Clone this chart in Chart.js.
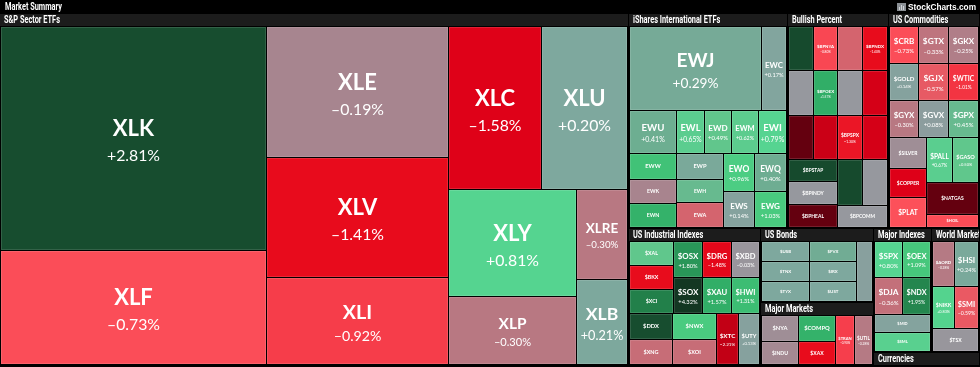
<!DOCTYPE html>
<html>
<head>
<meta charset="utf-8">
<script src="https://cdn.jsdelivr.net/npm/chart.js@4.4.1/dist/chart.umd.min.js"></script>
<style>
  html, body { margin: 0; padding: 0; background: #000; }
  #wrap { width: 980px; height: 367px; }
</style>
</head>
<body>
<div id="wrap"><canvas id="map" width="980" height="367"></canvas></div>
<script>
// ---- data: one set of arrays per panel (weights = relative cell size) ----
const spNames  = ['XLK','XLF','XLE','XLV','XLI','XLC','XLU','XLY','XLP','XLRE','XLB'];
const spChange = [2.81,-0.73,-0.19,-1.41,-0.92,-1.58,0.20,0.81,-0.30,-0.30,0.21];
const spWeight = [59808,30438,23973,21960,15921,15159,14018,13696,8704,4590,4335];
const spTree   = ['h',['v',0,1],['v',2,3,4],['v',['h',5,6],['h',['v',7,8],['v',9,10]]]];

const intlNames  = ['EWJ','EWC','EWU','EWL','EWD','EWM','EWI','EWW','EWK','EWN','EWP','EWH','EWA','EWO','EWS','EWQ','EWG'];
const intlChange = [0.29,0.17,0.41,0.65,0.49,0.62,0.79,1.20,-0.20,1.50,0.25,0.45,-0.45,0.96,0.14,0.40,1.03];
const intlWeight = [11172,2100,2016,1176,1134,1134,1176,1248,1152,1152,1222,1081,1175,1178,1116,1216,1152];
const intlTree   = ['v',['h',0,1],['h',2,3,4,5,6],['h',['v',7,8,9],['v',10,11,12],['v',13,14],['v',15,16]]];

const bpNames  = ['','$BPNYA','','$BPNDX','','$BPOEX','','','','','$BPSPX','','$BPSTAP','$BPINDY','$BPHEAL','','','$BPCOMM'];
const bpChange = [3.0,-0.80,-0.45,-1.40,0.0,1.57,0.0,-1.80,-4.0,-2.0,-1.30,-1.80,3.0,0.0,-4.0,3.0,0.0,0.0];
const bpWeight = [1100,1100,1100,1100,1100,1100,1100,1100,1100,1100,1100,1100,1078,1127,1127,1100,1144,1122];
const bpTree   = ['v',['h',0,1,2,3],['h',4,5,6,7],['h',8,9,10,11],['h',['v',12,13,14],['v',['h',15,16],17]]];

const comNames  = ['$CRB','$GTX','$GKX','$GOLD','$GJX','$WTIC','$GYX','$GVX','$GPX','$SILVER','$COPPER','$PLAT','$PALL','$GASO','$NATGAS','$HOIL'];
const comChange = [-0.73,-0.33,-0.25,0.14,-0.57,-1.01,-0.30,0.08,0.45,-0.10,-1.60,-0.70,0.67,0.50,-4.00,-0.75];
const comWeight = [1073,1110,1110,1073,1110,1110,1073,1110,1110,1147,1073,1110,1170,1170,1664,676];
const comTree   = ['v',['h',0,1,2],['h',3,4,5],['h',6,7,8],['h',['v',9,10,11],['v',['h',12,13],14,15]]];

const indNames  = ['$XAL','$BKX','$XCI','$OSX','$DRG','$XBD','$SOX','$XAU','$HWI','$DDX','$XNG','$NWX','$XOI','$XTC','$UTY'];
const indChange = [0.50,-1.40,2.00,1.80,-1.48,-0.03,4.32,1.57,1.31,2.80,-0.38,1.00,-0.38,-2.21,0.13];
const indWeight = [1056,1056,1056,1044,1044,1044,1044,1044,1044,1144,1100,1144,1100,1122,1122];
const indTree   = ['v',['h',['v',0,1,2],['v',['h',3,4,5],['h',6,7,8]]],['h',['v',9,10],['v',11,12],13,14]];

const bondNames  = ['$USB','$TNX','$TYX','$FVX','$IRX','$UST',''];
const bondChange = [0.20,0.20,0.20,0.35,0.20,0.20,0.12];
const bondWeight = [960,960,960,960,960,960,1003];
const bondTree   = ['h',['v',0,1,2],['v',3,4,5],6];

const mmNames  = ['$NYA','$INDU','$COMPQ','$XAX','$TRAN','$UTIL'];
const mmChange = [-0.10,-0.15,1.50,-1.40,-0.90,-0.28];
const mmWeight = [962,888,988,912,950,950];
const mmTree   = ['h',['v',0,1],['v',2,3],4,5];

const miNames  = ['$SPX','$OEX','$DJA','$NDX','$MID','$SML'];
const miChange = [0.80,1.09,-0.36,1.95,0.15,0.70];
const miWeight = [1008,1044,1064,1102,1026,1083];
const miTree   = ['v',['h',0,1],['h',2,3],4,5];

const wmNames  = ['$AORD','$HSI','$NIKK','$SMI','$TSX'];
const wmChange = [-0.28,0.24,0.83,-0.59,-0.02];
const wmWeight = [990,1125,946,1075,1081];
const wmTree   = ['v',['h',0,1],['h',2,3],4];

const groupTitles = ['S&P Sector ETFs','iShares International ETFs','Bullish Percent','US Commodities',
  'US Industrial Indexes','US Bonds','Major Markets','Major Indexes','World Markets','Currencies'];
const groupWeight = [222037,34344,21816,19656,18221,8362,7119,7192,5952,1378];
const groupTree   = ['h',0,['v',['h',1,2,3],['h',4,['v',5,6],['v',['h',7,8],9]]]];

const groups = [
  {names: spNames, change: spChange, weight: spWeight, tree: spTree},
  {names: intlNames, change: intlChange, weight: intlWeight, tree: intlTree},
  {names: bpNames, change: bpChange, weight: bpWeight, tree: bpTree},
  {names: comNames, change: comChange, weight: comWeight, tree: comTree},
  {names: indNames, change: indChange, weight: indWeight, tree: indTree},
  {names: bondNames, change: bondChange, weight: bondWeight, tree: bondTree},
  {names: mmNames, change: mmChange, weight: mmWeight, tree: mmTree},
  {names: miNames, change: miChange, weight: miWeight, tree: miTree},
  {names: wmNames, change: wmChange, weight: wmWeight, tree: wmTree},
  {names: [], change: [], weight: [], tree: null}
];

// ---- colour scale (percent change -> rgb) ----
const posStops = [[0,[150,152,158]],[0.1,[138,158,158]],[0.2,[126,168,158]],[0.3,[117,170,150]],[0.42,[108,174,145]],
  [0.48,[97,198,140]],[0.8,[86,212,145]],[1.0,[74,203,128]],[1.3,[60,190,115]],[1.6,[48,172,102]],[2.0,[34,128,74]],
  [2.8,[23,77,47]],[4.5,[18,52,32]]];
const negStops = [[0,[150,152,158]],[0.2,[168,132,142]],[0.3,[184,120,130]],[0.45,[212,100,110]],[0.7,[252,80,90]],
  [0.95,[245,58,72]],[1.4,[232,12,28]],[1.6,[222,0,24]],[2.5,[180,0,20]],[4.0,[100,0,15]]];

function colorFor(v) {
  const stops = v >= 0 ? posStops : negStops;
  const a = Math.abs(v);
  if (a >= stops[stops.length - 1][0]) return 'rgb(' + stops[stops.length - 1][1].join(',') + ')';
  for (let i = 1; i < stops.length; i++) {
    if (a <= stops[i][0]) {
      const [p0, c0] = stops[i - 1], [p1, c1] = stops[i];
      const t = (a - p0) / (p1 - p0);
      return 'rgb(' + c0.map((c, k) => Math.round(c + (c1[k] - c) * t)).join(',') + ')';
    }
  }
}

function fmt(v) {
  return (v >= 0 ? '+' : '\u2013') + Math.abs(v).toFixed(2) + '%';
}

// ---- nested slice layout driven by the weights ----
function weightOf(node, w) {
  return typeof node === 'number' ? w[node] : node.slice(1).reduce((s, k) => s + weightOf(k, w), 0);
}
function place(node, w, x0, y0, x1, y1, out) {
  if (typeof node === 'number') { out.push({i: node, x0, y0, x1, y1}); return; }
  const total = weightOf(node, w);
  let pos = node[0] === 'h' ? x0 : y0;
  node.slice(1).forEach(k => {
    const share = weightOf(k, w) / total;
    if (node[0] === 'h') {
      const nx = pos + (x1 - x0) * share;
      place(k, w, pos, y0, nx, y1, out); pos = nx;
    } else {
      const ny = pos + (y1 - y0) * share;
      place(k, w, x0, pos, x1, ny, out); pos = ny;
    }
  });
}

const HEAD = 13;
const boxes = [];
place(groupTree, groupWeight, 0, 14, 980, 366, boxes);

const cells = [];
boxes.forEach(b => {
  const g = groups[b.i];
  b.cells = [];
  if (g.tree) place(g.tree, g.weight, b.x0 + 1, b.y0 + HEAD, b.x1 - 1, b.y1 - 1, b.cells);
  b.cells.forEach(c => cells.push({x: (c.x0 + c.x1) / 2, y: (c.y0 + c.y1) / 2}));
});

const HEAD_FONT = 'bold 11px Roboto, "Liberation Sans", sans-serif';

// condensed header text: squeeze horizontally
function headText(ctx, text, x, y, squeeze) {
  ctx.save();
  ctx.translate(x, y);
  ctx.scale(squeeze, 1);
  ctx.fillText(text, 0, 0);
  ctx.restore();
}

const treemapPlugin = {
  id: 'treemapCells',
  beforeDatasetsDraw(chart) {
    const ctx = chart.ctx;
    const sx = chart.scales.x, sy = chart.scales.y;
    const X = v => Math.round(sx.getPixelForValue(v));
    const Y = v => Math.round(sy.getPixelForValue(v));
    ctx.save();
    ctx.fillStyle = '#000';
    ctx.fillRect(0, 0, chart.width, chart.height);

    // title bar
    ctx.fillStyle = '#fff';
    ctx.textBaseline = 'middle';
    ctx.font = HEAD_FONT;
    const squeeze = 57 / ctx.measureText('Market Summary').width;
    headText(ctx, 'Market Summary', X(5), Y(7), squeeze);
    // logo
    ctx.fillStyle = '#8a8f94';
    ctx.fillRect(X(897), Y(3), 9, 8);
    ctx.fillStyle = '#d0d4d8';
    ctx.fillRect(X(899), Y(7), 1, 3);
    ctx.fillRect(X(901), Y(5), 1, 5);
    ctx.fillRect(X(903), Y(6), 1, 4);
    ctx.fillStyle = '#fff';
    ctx.font = 'bold 10px "Liberation Sans", Arial, sans-serif';
    const lw = ctx.measureText('StockCharts.com').width;
    ctx.font = 'bold ' + (10 * 68 / lw).toFixed(2) + 'px "Liberation Sans", Arial, sans-serif';
    ctx.fillText('StockCharts.com', X(908), Y(7.5));

    boxes.forEach(b => {
      const g = groups[b.i];
      const gx0 = X(b.x0), gx1 = X(b.x1), gy0 = Y(b.y0), gy1 = Y(b.y1);
      ctx.fillStyle = '#1c1c1c';
      ctx.fillRect(gx0, gy0, gx1 - gx0 - 1, HEAD - 1);
      ctx.save();
      ctx.beginPath(); ctx.rect(gx0, gy0, gx1 - gx0 - 1, HEAD - 1); ctx.clip();
      ctx.fillStyle = '#fff';
      ctx.font = HEAD_FONT;
      ctx.textAlign = 'left';
      headText(ctx, groupTitles[b.i], gx0 + 4, gy0 + 6.5, squeeze);
      ctx.restore();

      b.cells.forEach(c => {
        const px0 = X(c.x0), px1 = X(c.x1), py0 = Y(c.y0), py1 = Y(c.y1);
        const w = px1 - px0 - 1, h = py1 - py0 - 1;
        const v = g.change[c.i];
        ctx.fillStyle = colorFor(v);
        ctx.fillRect(px0, py0, w, h);
        ctx.strokeStyle = 'rgba(255,255,255,0.12)';
        ctx.lineWidth = 1;
        ctx.strokeRect(px0 + 0.5, py0 + 0.5, w - 1, h - 1);

        const name = g.names[c.i];
        if (!name) return;
        ctx.font = 'bold 100px Lato, sans-serif';
        const em = ctx.measureText(name).width / 100;
        const r = Math.min(0.75, Math.max(0.45, 0.85 - w * 0.004));
        let f = Math.min(22, h * 0.23, r * w / em);
        if (name.length >= 7) f = Math.min(f, 5);
        if (h >= 10 && w >= 18) f = Math.max(f, 4);
        if (f < 3.5) return;
        const cx = px0 + w / 2, cy = py0 + h / 2;
        const showPct = h >= 33;
        ctx.save();
        ctx.beginPath(); ctx.rect(px0, py0, w, h); ctx.clip();
        ctx.fillStyle = '#fff';
        ctx.textAlign = 'center';
        ctx.textBaseline = 'middle';
        ctx.font = 'bold ' + f.toFixed(1) + 'px Lato, sans-serif';
        ctx.fillText(name, cx, showPct ? cy - 0.42 * f : cy);
        if (showPct) {
          ctx.font = (0.72 * f).toFixed(1) + 'px Lato, sans-serif';
          ctx.fillText(fmt(v), cx, cy + 0.8 * f);
        }
        ctx.restore();
      });
    });
    ctx.restore();
  }
};

new Chart(document.getElementById('map'), {
  type: 'scatter',
  data: { datasets: [{ data: cells, pointRadius: 0 }] },
  options: {
    responsive: false,
    animation: false,
    devicePixelRatio: 1,
    layout: { padding: 0 },
    plugins: { legend: { display: false }, tooltip: { enabled: false } },
    scales: {
      x: { type: 'linear', min: 0, max: 980, display: false },
      y: { type: 'linear', min: 0, max: 367, reverse: true, display: false }
    }
  },
  plugins: [treemapPlugin]
});
</script>
</body>
</html>
